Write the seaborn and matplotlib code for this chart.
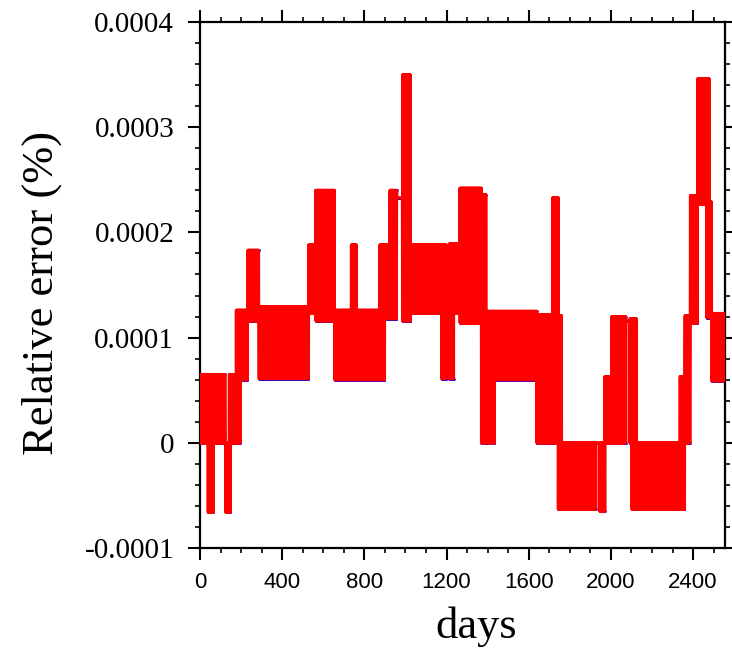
import numpy as np
import pandas as pd
import matplotlib
matplotlib.use("Agg")
import matplotlib.pyplot as plt
from matplotlib.ticker import FixedLocator, FixedFormatter, MultipleLocator
import seaborn as sns

# Piecewise record of the daily relative error: within each stretch of days the
# error swings day by day between a lower and an upper level.
seg_start = [0, 40, 65, 122, 125, 142, 148, 176, 198, 232, 287, 529, 563, 655,
             737, 763, 874, 900, 925, 958, 986, 1025, 1176, 1200, 1213, 1236,
             1265, 1370, 1392, 1398, 1434, 1640, 1716, 1744, 1760, 1927, 1946,
             1971, 2005, 2073, 2092, 2101, 2125, 2336, 2360, 2386, 2422, 2465,
             2478, 2490]
seg_end = seg_start[1:] + [2556]
seg_low = [0.0, -6.6e-5, 0.0, 0.0, -6.6e-5, -6.6e-5, 0.0, 0.0, 6.0e-5, 1.16e-4,
           6.1e-5, 1.23e-4, 1.16e-4, 6.0e-5, 6.0e-5, 6.0e-5, 6.0e-5, 1.18e-4,
           1.18e-4, 2.33e-4, 1.16e-4, 1.23e-4, 6.1e-5, 1.26e-4, 6.1e-5, 1.23e-4,
           1.14e-4, 0.0, 6.0e-5, 0.0, 6.0e-5, 0.0, 0.0, -6.3e-5, -6.3e-5, 0.0,
           -6.5e-5, 0.0, 0.0, 1.16e-4, 0.0, -6.3e-5, -6.3e-5, -6.3e-5, 0.0,
           1.14e-4, 2.27e-4, 1.19e-4, 1.19e-4, 5.9e-5]
seg_high = [6.5e-5, 6.5e-5, 6.5e-5, 0.0, 0.0, 6.5e-5, 6.5e-5, 1.26e-4, 1.26e-4,
            1.83e-4, 1.29e-4, 1.88e-4, 2.40e-4, 1.26e-4, 1.88e-4, 1.26e-4,
            1.88e-4, 1.88e-4, 2.40e-4, 2.33e-4, 3.50e-4, 1.88e-4, 1.88e-4,
            1.26e-4, 1.89e-4, 1.89e-4, 2.42e-4, 2.36e-4, 1.25e-4, 1.25e-4,
            1.25e-4, 1.22e-4, 2.33e-4, 1.21e-4, 0.0, 0.0, 0.0, 6.3e-5, 1.20e-4,
            1.16e-4, 1.18e-4, 1.18e-4, 0.0, 6.3e-5, 1.21e-4, 2.35e-4, 3.46e-4,
            3.46e-4, 2.29e-4, 1.23e-4]

x_ticks = [0, 400, 800, 1200, 1600, 2000, 2400]
y_ticks = [-0.0001, 0, 0.0001, 0.0002, 0.0003, 0.0004]
y_tick_labels = ["-0.0001", "0", "0.0001", "0.0002", "0.0003", "0.0004"]

days, errors = [], []
for s, e, lo, hi in zip(seg_start, seg_end, seg_low, seg_high):
    for d in range(s, e):
        days.append(d)
        errors.append(lo if d % 2 == 0 else hi)
df = pd.DataFrame({"days": days, "err": errors})

sns.set_style("ticks")
plt.rcParams["font.family"] = ["Liberation Serif", "DejaVu Serif"]
plt.rcParams.update({"text.color": "black", "axes.labelcolor": "black",
                     "xtick.color": "black", "ytick.color": "black",
                     "axes.edgecolor": "black"})

fig = plt.figure(figsize=(7.32, 6.59), dpi=100)
ax = fig.add_axes([0.2732, 0.1684, 0.7172, 0.7982])

ax.scatter(df["days"], df["err"], s=4, color="#0000ff", linewidths=0, zorder=2)
sns.lineplot(data=df, x="days", y="err", color="#ff0000", linewidth=2.2,
             estimator=None, sort=False, ax=ax, zorder=3)

ax.set_xlim(0, 2555)
ax.set_ylim(-0.0001, 0.0004)

ax.xaxis.set_major_locator(FixedLocator(x_ticks))
ax.xaxis.set_minor_locator(MultipleLocator(100))
ax.yaxis.set_major_locator(FixedLocator(y_ticks))
ax.yaxis.set_major_formatter(FixedFormatter(y_tick_labels))
ax.yaxis.set_minor_locator(MultipleLocator(0.00002))

ax.tick_params(which="both", direction="out", top=True, right=True,
               labeltop=False, labelright=False, color="black")
ax.tick_params(which="major", length=8.6, width=1.5)
ax.tick_params(which="minor", length=3.6, width=1.2)
ax.tick_params(axis="y", which="major", pad=10, labelsize=21)
ax.tick_params(axis="x", which="major", pad=9, labelsize=16)
for lab in ax.get_xticklabels():
    lab.set_fontfamily(["Liberation Sans", "DejaVu Sans"])
for sp in ax.spines.values():
    sp.set_visible(True)
    sp.set_linewidth(1.6)
    sp.set_color("black")

ax.set_xlabel("days", fontsize=32)
ax.set_ylabel("Relative error (%)", fontsize=32)
ax.xaxis.set_label_coords(0.526, -0.112)
ax.yaxis.set_label_coords(-0.262, 0.485)

fig.savefig("out.png", dpi=100, facecolor="white")
